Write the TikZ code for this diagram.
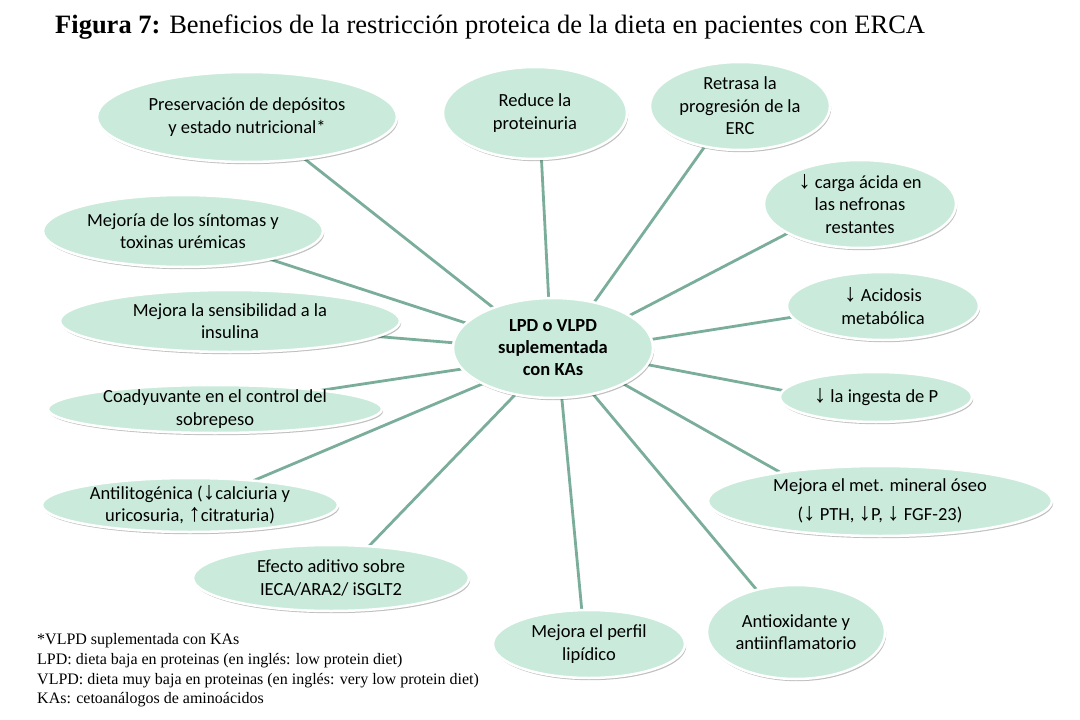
\documentclass[tikz,border=0pt]{standalone}
\usepackage{fontspec}
\setmainfont{Carlito}
\newfontfamily\timesf{Liberation Serif}
\newfontfamily\symf{Liberation Sans}[Scale=1.35]
\newcommand\dnarr{{\symf ↓}}
\newcommand\uparr{{\symf ↑}}
\usetikzlibrary{shapes.geometric,shadows,backgrounds}
\definecolor{bubfill}{HTML}{CAEBDC}
\definecolor{linkc}{HTML}{7BAE9A}
\tikzset{
  bub/.style={ellipse, draw=white, line width=2.5pt, fill=bubfill, inner sep=0pt, outer sep=0pt,
    drop shadow={shadow xshift=1.2pt, shadow yshift=-2.2pt, fill=black, opacity=0.25}},
  btxt/.style={align=center, font=\fontsize{18.5}{22.5}\selectfont, inner sep=0pt},
  link/.style={draw=linkc, line width=2.8pt},
  fn/.style={anchor=base west, font=\timesf\fontsize{16}{19}\selectfont, inner sep=0pt},
}
\newcommand\bubble[6]{%
  \node[bub, minimum width={2*#4pt}, minimum height={2*#5pt}] (#1) at (#2,#3) {};
  \node[btxt] (#1-t) at (#1) {#6};
}
\begin{document}
\begin{tikzpicture}[x=1pt,y=-1pt]
\useasboundingbox (0,0) rectangle (1080,720);
\node[anchor=base west, inner sep=0pt, font=\timesf\fontsize{26.5}{30}\selectfont] (title) at (55,34)
  {\textbf{Figura 7:} Beneficios de la restricción proteica de la dieta en pacientes con ERCA};

\bubble{pres}{247}{117}{150}{45}{Preservación de depósitos\\y estado nutricional*}
\bubble{reduce}{535}{113}{92}{46}{Reduce la\\proteinuria}
\bubble{retrasa}{740}{106}{90}{44}{Retrasa la\\progresión de la\\ERC}
\bubble{carga}{860}{204}{96}{44}{\dnarr{} carga ácida en\\las nefronas\\restantes}
\bubble{acid}{883}{306}{96}{34}{\dnarr{} Acidosis\\metabólica}
\bubble{ingesta}{876}{397}{96}{25}{\dnarr{} la ingesta de P}
\bubble{mineral}{880}{501}{172}{35}{Mejora el met. mineral óseo\\[7pt](\dnarr{} PTH, \dnarr{}P, \dnarr{} FGF-23)}
\bubble{antiox}{796}{632}{89}{47}{Antioxidante y\\antiinflamatorio}
\bubble{lipid}{589}{644}{96}{34}{Mejora el perfil\\lipídico}
\bubble{efecto}{331}{578}{138}{33}{Efecto aditivo sobre\\IECA/ARA2/ iSGLT2}
\bubble{antilit}{190}{505}{148}{27}{Antilitogénica (\dnarr{}calciuria y\\uricosuria, \uparr{}citraturia)}
\bubble{coady}{215}{409}{167}{24}{Coadyuvante en el control del\\sobrepeso}
\bubble{sensib}{230}{321}{170}{31}{Mejora la sensibilidad a la\\insulina}
\bubble{mejoria}{183}{231}{140}{36}{Mejoría de los síntomas y\\toxinas urémicas}

\node[bub, minimum width=200pt, minimum height=100pt] (hub) at (553,348) {};
\node[btxt, font=\bfseries\fontsize{18.5}{22}\selectfont] (hub-t) at (hub) {LPD o VLPD\\suplementada\\con KAs};

\begin{pgfonlayer}{background}
\fill[white] (0,0) rectangle (1080,720);
\draw[link] (hub.146) -- (pres.-36);
\draw[link] (hub.95) -- (reduce.-82);
\draw[link] (hub.48) -- (retrasa.-131);
\draw[link] (hub.23) -- (carga.-158);
\draw[link] (hub.5) -- (acid.-173);
\draw[link] (hub.-10) -- (ingesta.176);
\draw[link] (hub.-27) -- (mineral.164);
\draw[link] (hub.-49) -- (antiox.133);
\draw[link] (hub.-80) -- (lipid.102);
\draw[link] (hub.-129) -- (efecto.40);
\draw[link] (hub.-153) -- (antilit.21);
\draw[link] (hub.-167) -- (coady.10);
\draw[link] (hub.177) -- (sensib.-6);
\draw[link] (hub.164) -- (mejoria.-18);
\end{pgfonlayer}

\node[fn] (f1) at (37,644) {*VLPD suplementada con KAs};
\node[fn] (f2) at (37,664) {LPD: dieta baja en proteinas (en inglés: low protein diet)};
\node[fn] (f3) at (37,684) {VLPD: dieta muy baja en proteinas (en inglés: very low protein diet)};
\node[fn] (f4) at (37,703) {KAs: cetoanálogos de aminoácidos};
\end{tikzpicture}
\end{document}
